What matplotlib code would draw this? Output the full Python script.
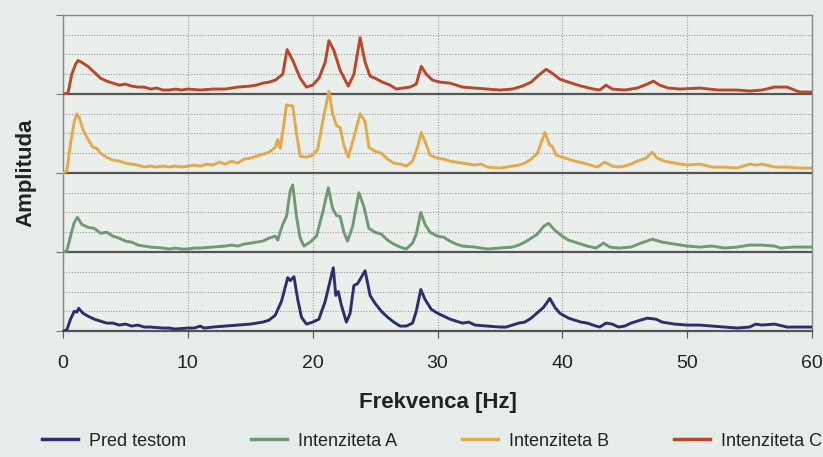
import numpy as np
import matplotlib.pyplot as plt
from matplotlib.lines import Line2D

plt.rcParams['font.family'] = ['Liberation Sans Narrow', 'Liberation Sans', 'DejaVu Sans']

# (frequency Hz, amplitude), one band = 4 units
pred_testom = [(0, 0), (0.3, 0.05), (0.6, 0.6), (0.9, 1.0), (1.1, 0.95), (1.25, 1.15), (1.6, 0.9),
               (2.0, 0.75), (2.5, 0.6), (3.0, 0.5), (3.5, 0.4), (4.0, 0.4), (4.5, 0.3), (5.0, 0.35),
               (5.5, 0.25), (6.0, 0.3), (6.5, 0.2), (7.0, 0.2), (8.0, 0.15), (8.5, 0.15), (9.0, 0.1),
               (10.0, 0.15), (10.5, 0.15), (11.0, 0.25), (11.3, 0.15), (12.0, 0.2), (13.0, 0.25),
               (14.0, 0.3), (15.0, 0.35), (16.0, 0.45), (16.5, 0.55), (17.0, 0.8), (17.5, 1.5),
               (18.0, 2.7), (18.2, 2.55), (18.5, 2.75), (18.8, 1.6), (19.1, 0.7), (19.5, 0.35),
               (20.0, 0.45), (20.5, 0.6), (21.0, 1.5), (21.65, 3.2), (21.85, 1.8), (22.05, 2.0),
               (22.3, 1.3), (22.7, 0.45), (23.0, 0.9), (23.3, 2.3), (23.6, 2.4), (24.2, 3.05),
               (24.6, 1.8), (25.0, 1.4), (25.5, 1.0), (26.0, 0.7), (26.5, 0.45), (27.0, 0.25),
               (27.5, 0.25), (28.0, 0.4), (28.3, 1.0), (28.66, 2.1), (29.0, 1.6), (29.5, 1.1),
               (30.0, 0.9), (30.5, 0.75), (31.0, 0.6), (31.5, 0.5), (32.0, 0.4), (32.5, 0.45),
               (33.0, 0.3), (34.0, 0.25), (35.0, 0.2), (35.5, 0.2), (36.0, 0.3), (36.5, 0.4),
               (37.0, 0.45), (37.5, 0.65), (38.5, 1.2), (39.0, 1.65), (39.4, 1.2), (39.8, 0.9),
               (40.5, 0.65), (41.0, 0.55), (41.5, 0.45), (42.0, 0.4), (42.7, 0.25), (43.0, 0.2),
               (43.5, 0.4), (44.0, 0.35), (44.5, 0.2), (45.0, 0.25), (45.5, 0.4), (46.0, 0.5),
               (46.8, 0.65), (47.5, 0.6), (48.0, 0.45), (48.5, 0.4), (49.0, 0.35), (50.0, 0.3),
               (51.0, 0.3), (52.0, 0.25), (53.0, 0.2), (54.0, 0.15), (55.0, 0.2), (55.5, 0.35),
               (56.0, 0.3), (57.0, 0.35), (58.0, 0.2), (59.0, 0.2), (60.0, 0.2)]

intenziteta_a = [(0, 0), (0.3, 0.05), (0.6, 0.8), (0.9, 1.5), (1.15, 1.75), (1.5, 1.4), (2.0, 1.25),
                 (2.5, 1.2), (3.0, 0.95), (3.5, 1.0), (4.0, 0.8), (4.5, 0.7), (5.0, 0.55), (5.5, 0.5),
                 (6.0, 0.35), (6.5, 0.3), (7.0, 0.25), (8.0, 0.2), (8.5, 0.15), (9.0, 0.2), (9.5, 0.15),
                 (10.0, 0.15), (10.5, 0.2), (11.0, 0.2), (12.0, 0.25), (13.0, 0.3), (13.5, 0.35),
                 (14.0, 0.3), (14.5, 0.4), (15.0, 0.45), (15.5, 0.5), (16.0, 0.55), (16.5, 0.7),
                 (17.0, 0.8), (17.2, 0.6), (17.6, 1.4), (17.9, 1.8), (18.2, 3.1), (18.4, 3.4),
                 (18.7, 1.8), (19.0, 0.7), (19.3, 0.3), (19.8, 0.5), (20.3, 0.8), (20.8, 2.0),
                 (21.25, 3.25), (21.6, 2.2), (21.9, 1.85), (22.2, 1.8), (22.5, 1.0), (22.8, 0.55),
                 (23.2, 1.3), (23.7, 3.0), (24.1, 2.3), (24.5, 1.2), (25.0, 1.0), (25.5, 0.9),
                 (26.0, 0.6), (26.5, 0.4), (27.0, 0.25), (27.5, 0.15), (28.0, 0.45), (28.3, 0.9),
                 (28.66, 2.0), (29.0, 1.4), (29.4, 1.0), (30.0, 0.8), (30.5, 0.75), (31.0, 0.55),
                 (31.5, 0.4), (32.0, 0.3), (33.0, 0.25), (34.0, 0.15), (35.0, 0.2), (36.0, 0.25),
                 (36.5, 0.35), (37.0, 0.5), (37.5, 0.7), (38.0, 0.9), (38.5, 1.3), (38.9, 1.45),
                 (39.4, 1.1), (40.0, 0.8), (40.5, 0.6), (41.0, 0.5), (42.0, 0.3), (42.7, 0.2),
                 (43.3, 0.45), (43.8, 0.25), (44.5, 0.2), (45.5, 0.25), (46.3, 0.45), (47.2, 0.65),
                 (48.0, 0.5), (49.0, 0.4), (50.0, 0.3), (51.0, 0.25), (52.0, 0.3), (53.0, 0.2),
                 (54.0, 0.25), (55.0, 0.35), (56.0, 0.35), (57.0, 0.3), (57.5, 0.2), (58.5, 0.25),
                 (60.0, 0.25)]

intenziteta_b = [(0, 0), (0.3, 0.1), (0.6, 1.5), (0.9, 2.6), (1.1, 3.0), (1.3, 2.8), (1.6, 2.2),
                 (2.0, 1.7), (2.4, 1.3), (2.7, 1.25), (3.0, 1.0), (3.5, 0.8), (4.0, 0.65), (4.5, 0.6),
                 (5.0, 0.5), (5.5, 0.45), (6.0, 0.4), (6.5, 0.3), (7.0, 0.35), (7.5, 0.3), (8.0, 0.35),
                 (8.5, 0.3), (9.0, 0.35), (9.5, 0.3), (10.0, 0.35), (10.5, 0.4), (11.0, 0.35),
                 (11.5, 0.45), (12.0, 0.4), (12.5, 0.55), (13.0, 0.45), (13.5, 0.6), (14.0, 0.5),
                 (14.5, 0.7), (15.0, 0.75), (15.5, 0.85), (16.0, 0.95), (16.5, 1.05), (17.0, 1.3),
                 (17.2, 1.7), (17.4, 1.25), (17.7, 2.5), (17.9, 3.45), (18.4, 3.4), (18.7, 2.0),
                 (19.0, 0.85), (19.5, 0.8), (20.0, 0.9), (20.4, 1.2), (20.8, 2.6), (21.3, 4.15),
                 (21.6, 3.0), (21.9, 2.4), (22.2, 2.3), (22.5, 1.4), (22.85, 0.8), (23.3, 1.8),
                 (23.8, 3.0), (24.2, 2.6), (24.5, 1.3), (25.0, 1.1), (25.5, 1.0), (26.0, 0.7),
                 (26.5, 0.5), (27.0, 0.45), (27.5, 0.35), (28.0, 0.6), (28.4, 1.3), (28.7, 2.05),
                 (29.0, 1.6), (29.4, 0.9), (30.0, 0.75), (30.5, 0.7), (31.0, 0.6), (31.5, 0.55),
                 (32.0, 0.5), (33.0, 0.4), (33.5, 0.45), (34.0, 0.3), (35.0, 0.25), (35.5, 0.3),
                 (36.0, 0.35), (36.5, 0.4), (37.0, 0.5), (37.5, 0.7), (38.0, 1.0), (38.6, 2.05),
                 (39.0, 1.4), (39.2, 1.35), (39.5, 0.9), (40.0, 0.8), (41.0, 0.6), (42.0, 0.45),
                 (42.8, 0.3), (43.4, 0.55), (44.0, 0.35), (44.5, 0.3), (45.0, 0.35), (45.5, 0.45),
                 (46.0, 0.6), (46.7, 0.75), (47.2, 1.05), (47.6, 0.75), (48.2, 0.6), (49.0, 0.5),
                 (50.0, 0.4), (51.0, 0.45), (52.0, 0.3), (53.0, 0.3), (54.0, 0.25), (55.0, 0.45),
                 (55.5, 0.4), (56.0, 0.45), (57.0, 0.3), (58.0, 0.3), (59.0, 0.25), (60.0, 0.25)]

intenziteta_c = [(0, 0), (0.4, 0.05), (0.7, 1.0), (1.0, 1.5), (1.2, 1.7), (1.5, 1.6), (2.0, 1.4),
                 (2.5, 1.1), (3.0, 0.8), (3.5, 0.65), (4.0, 0.55), (4.5, 0.45), (5.0, 0.5), (5.5, 0.4),
                 (6.0, 0.35), (6.5, 0.35), (7.0, 0.25), (7.5, 0.3), (8.0, 0.2), (8.5, 0.2), (9.0, 0.25),
                 (9.5, 0.2), (10.0, 0.25), (11.0, 0.2), (12.0, 0.25), (13.0, 0.25), (14.0, 0.35),
                 (15.0, 0.4), (15.5, 0.45), (16.0, 0.55), (16.5, 0.6), (17.0, 0.7), (17.6, 1.0),
                 (17.95, 2.25), (18.4, 1.7), (19.0, 0.8), (19.5, 0.35), (20.0, 0.45), (20.5, 0.8),
                 (21.0, 1.6), (21.3, 2.7), (21.7, 2.2), (22.2, 1.2), (22.85, 0.4), (23.3, 1.0),
                 (23.8, 2.85), (24.2, 1.6), (24.6, 0.9), (25.0, 0.8), (25.6, 0.6), (26.2, 0.45),
                 (26.7, 0.25), (27.2, 0.3), (27.8, 0.35), (28.3, 0.5), (28.7, 1.4), (29.1, 1.0),
                 (29.6, 0.7), (30.2, 0.6), (31.0, 0.55), (32.0, 0.35), (33.0, 0.3), (34.0, 0.25),
                 (35.0, 0.2), (36.0, 0.25), (36.8, 0.4), (37.5, 0.6), (38.2, 1.0), (38.7, 1.25),
                 (39.2, 1.05), (39.8, 0.75), (40.5, 0.6), (41.5, 0.4), (42.5, 0.25), (43.0, 0.2),
                 (43.5, 0.45), (44.0, 0.25), (45.0, 0.2), (46.0, 0.3), (46.8, 0.5), (47.3, 0.65),
                 (47.8, 0.45), (48.5, 0.3), (49.5, 0.25), (51.0, 0.3), (52.5, 0.2), (54.0, 0.2),
                 (55.0, 0.15), (56.0, 0.2), (57.0, 0.35), (58.0, 0.35), (59.0, 0.1), (60.0, 0.1)]

series_names = ["Pred testom", "Intenziteta A", "Intenziteta B", "Intenziteta C"]
series_data = [pred_testom, intenziteta_a, intenziteta_b, intenziteta_c]
band_offsets = [0, 4, 8, 12]
colors = ["#2c2e6e", "#6f9a73", "#e2aa4c", "#b9472b"]

bg = "#e6ecea"
fig = plt.figure(figsize=(8.23, 4.57), dpi=100, facecolor=bg)
ax = fig.add_axes([0.0766, 0.2757, 0.91, 0.6915])
ax.set_facecolor("#eaefec")

for data, off, col, name in zip(series_data, band_offsets, colors, series_names):
    f = np.array([p[0] for p in data])
    a = np.array([p[1] for p in data])
    ax.plot(f, a + off, color=col, lw=2.1, label=name, zorder=3)

ax.set_xlim(0, 60)
ax.set_ylim(0, 16)
ax.set_xticks(np.arange(0, 61, 10))
ax.set_yticks(np.arange(0, 17, 4))
ax.set_yticks(np.arange(0, 17, 1), minor=True)
ax.set_yticklabels([])
ax.tick_params(axis="x", labelsize=14, length=5, color="#555555", pad=12, labelcolor="#222222")
ax.tick_params(axis="y", which="major", length=5, color="#777777")
ax.tick_params(axis="y", which="minor", length=0)

ax.grid(axis="x", which="major", color="#999999", lw=0.8, ls=(0, (1, 1.5)))
ax.grid(axis="y", which="minor", color="#999999", lw=0.8, ls=(0, (1, 1.5)))
for yb in [4, 8, 12]:
    ax.axhline(yb, color="#555555", lw=1.6, zorder=2)

for s in ["top", "right", "left"]:
    ax.spines[s].set_color("#888888")
    ax.spines[s].set_linewidth(1.0)
ax.spines["bottom"].set_color("#555555")
ax.spines["bottom"].set_linewidth(1.6)

ax.set_xlabel("Frekvenca [Hz]", fontsize=16, fontweight="bold", color="#222222", labelpad=15)
ax.set_ylabel("Amplituda", fontsize=16, fontweight="bold", color="#222222", labelpad=11)

handles = [Line2D([0], [0], color=c, lw=2.5) for c in colors]
fig.legend(handles, series_names, loc="center", bbox_to_anchor=(0.525, 0.035), ncol=4,
           frameon=False, fontsize=13, handlelength=2.0, columnspacing=3.6, handletextpad=0.6,
           labelcolor="#222222")

fig.savefig("out.png", dpi=100, facecolor=bg)
